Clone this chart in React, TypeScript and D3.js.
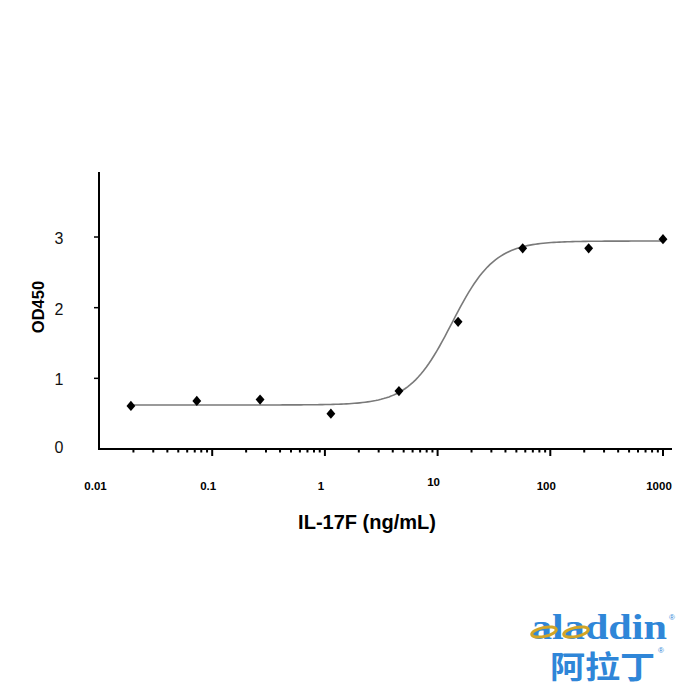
import React, {useRef, useEffect} from 'react';
import * as d3 from 'd3';

// concentrations (ng/mL) and measured OD450
const concentrations = [0.019, 0.073, 0.266, 1.13, 4.54, 15.2, 56.9, 219, 1000];
const od450 = [0.61, 0.68, 0.70, 0.50, 0.82, 1.80, 2.84, 2.84, 2.97];

// 4PL fit parameters: bottom, top, EC50, hill
const fitParams = [0.623, 2.943, 13.4, 2.3];

const yTicks = [0, 1, 2, 3];
const xTickLabels = ['0.01', '0.1', '1', '10', '100', '1000'];

const FONT = '"Liberation Sans", Arial, Helvetica, sans-serif';

const Chart: React.FC = () => {
    const ref = useRef<SVGSVGElement | null>(null);

    useEffect(() => {
        if (!ref.current) return;
        const svg = d3.select(ref.current);
        svg.selectAll('*').remove();

        const x = d3.scaleLog().domain([0.01, 1000]).range([99.5, 663]);
        const y = d3.scaleLinear().domain([0, 3.92]).range([449, 172]);

        const g = svg.append('g').attr('font-family', FONT);

        // axis lines
        g.append('line')
            .attr('x1', 99).attr('x2', 99).attr('y1', 172).attr('y2', 449)
            .attr('stroke', '#000').attr('stroke-width', 2);
        g.append('line')
            .attr('x1', 98).attr('x2', 672).attr('y1', 449).attr('y2', 449)
            .attr('stroke', '#000').attr('stroke-width', 2);

        // y ticks
        g.selectAll('.ytick')
            .data(yTicks.filter(d => d > 0))
            .join('line')
            .attr('x1', 94).attr('x2', 99)
            .attr('y1', d => y(d)).attr('y2', d => y(d))
            .attr('stroke', '#000').attr('stroke-width', 1.5);

        g.selectAll('.ylab')
            .data(yTicks)
            .join('text')
            .attr('x', 59)
            .attr('y', d => y(d) + (d === 0 ? -2 : 1.5))
            .attr('text-anchor', 'middle')
            .attr('dominant-baseline', 'central')
            .attr('font-size', 16)
            .attr('fill', '#111')
            .text(d => d);

        // x ticks: decades major, 2..9 minor
        const decades = xTickLabels.map(Number);
        const minor: number[] = [];
        decades.slice(0, -1).forEach(d => {
            for (let k = 2; k <= 9; k++) minor.push(d * k);
        });
        g.selectAll('.xminor')
            .data(minor)
            .join('line')
            .attr('x1', d => x(d)).attr('x2', d => x(d))
            .attr('y1', 449).attr('y2', 452.5)
            .attr('stroke', '#000').attr('stroke-width', 2);
        g.selectAll('.xmajor')
            .data(decades.slice(1))
            .join('line')
            .attr('x1', d => x(d)).attr('x2', d => x(d))
            .attr('y1', 449).attr('y2', 456)
            .attr('stroke', '#000').attr('stroke-width', 2);

        g.selectAll('.xlab')
            .data(xTickLabels)
            .join('text')
            .attr('x', d => x(Number(d)) - 4)
            .attr('y', d => d === '10' ? 482 : 486)
            .attr('text-anchor', 'middle')
            .attr('dominant-baseline', 'central')
            .attr('font-size', 11.5)
            .attr('font-weight', 'bold')
            .text(d => d);

        // titles
        g.append('text')
            .attr('x', 367).attr('y', 522)
            .attr('text-anchor', 'middle')
            .attr('dominant-baseline', 'central')
            .attr('font-size', 20)
            .attr('font-weight', 'bold')
            .text('IL-17F (ng/mL)');
        g.append('text')
            .attr('transform', 'translate(38,307) rotate(-90)')
            .attr('text-anchor', 'middle')
            .attr('dominant-baseline', 'central')
            .attr('font-size', 16.5)
            .attr('font-weight', 'bold')
            .text('OD450');

        // fitted curve
        const [bottom, top, ec50, hill] = fitParams;
        const lo = Math.log10(concentrations[0]);
        const hi = Math.log10(concentrations[concentrations.length - 1]);
        const curve = d3.range(0, 201).map(i => {
            const c = Math.pow(10, lo + (hi - lo) * i / 200);
            return [c, bottom + (top - bottom) / (1 + Math.pow(ec50 / c, hill))];
        });
        g.append('path')
            .datum(curve)
            .attr('d', d3.line<number[]>().x(d => x(d[0])).y(d => y(d[1])))
            .attr('fill', 'none')
            .attr('stroke', '#7a7a7a')
            .attr('stroke-width', 1.6);

        // points
        g.selectAll('.pt')
            .data(concentrations)
            .join('path')
            .attr('transform', (d, i) => `translate(${x(d)},${y(od450[i])}) scale(1,1.16)`)
            .attr('d', d3.symbol(d3.symbolDiamond2, 50)())
            .attr('fill', '#000');

        // logo
        const logo = svg.append('g');
        logo.append('text')
            .attr('x', 531).attr('y', 639)
            .attr('font-family', '"Liberation Serif", "DejaVu Serif", serif')
            .attr('font-size', 36)
            .attr('font-weight', 'bold')
            .attr('fill', '#2f86d8')
            .attr('textLength', 136)
            .attr('lengthAdjust', 'spacingAndGlyphs')
            .text('aladdin');
        [544, 576].forEach(cx => {
            logo.append('ellipse')
                .attr('cx', cx).attr('cy', 632)
                .attr('rx', 12.5).attr('ry', 4.5)
                .attr('transform', `rotate(-12,${cx},632)`)
                .attr('fill', 'none')
                .attr('stroke', '#d2a526')
                .attr('stroke-width', 3);
        });
        logo.append('text')
            .attr('x', 550).attr('y', 678)
            .attr('font-family', '"Noto Sans CJK SC", sans-serif')
            .attr('font-size', 31)
            .attr('font-weight', 'bold')
            .attr('fill', '#2f86d8')
            .attr('textLength', 105)
            .attr('lengthAdjust', 'spacingAndGlyphs')
            .text('阿拉丁');
        logo.append('text')
            .attr('x', 669).attr('y', 620)
            .attr('font-family', FONT)
            .attr('font-size', 8)
            .attr('fill', '#2f86d8')
            .text('®');
        logo.append('text')
            .attr('x', 658).attr('y', 653)
            .attr('font-family', FONT)
            .attr('font-size', 8)
            .attr('fill', '#2f86d8')
            .text('®');

        return () => {
            // eslint-disable-next-line react-hooks/exhaustive-deps
            d3.select(ref.current).selectAll('*').remove();
        };
    }, []);

    return <svg ref={ref} width={700} height={700} style={{position: 'absolute', left: 0, top: 0, background: '#fff'}}></svg>;
};

export default function App() {
    return <Chart />;
}
